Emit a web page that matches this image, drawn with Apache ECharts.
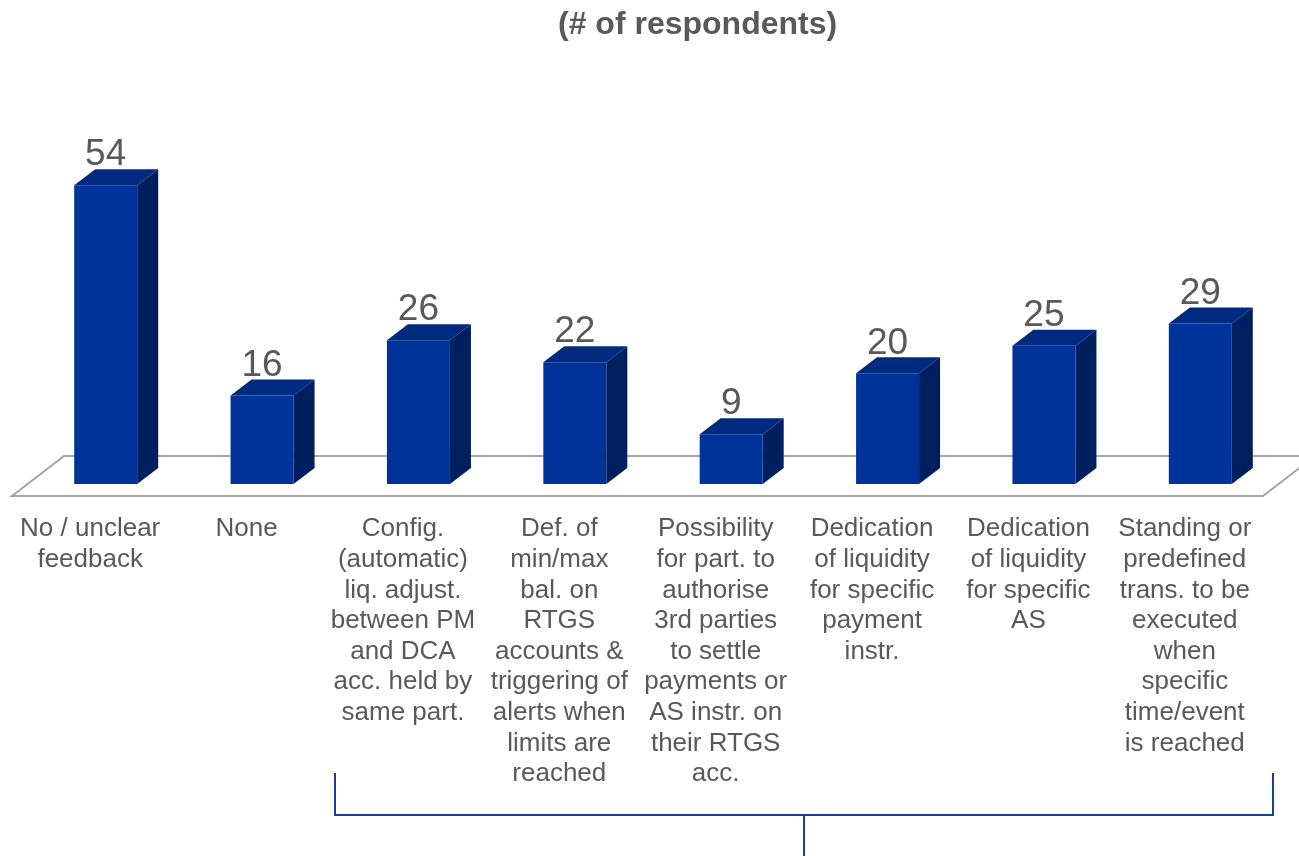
<!DOCTYPE html>
<html>
<head>
<meta charset="utf-8">
<script src="https://cdn.jsdelivr.net/npm/echarts@6/dist/echarts.min.js"></script>
<style>html,body{margin:0;padding:0;background:#fff}#c{width:1299px;height:856px}</style>
</head>
<body>
<div id="c"></div>
<script>
const titleText = '(# of respondents)';
const categories = [
  'No / unclear\nfeedback',
  'None',
  'Config.\n(automatic)\nliq. adjust.\nbetween PM\nand DCA\nacc. held by\nsame part.',
  'Def. of\nmin/max\nbal. on\nRTGS\naccounts &\ntriggering of\nalerts when\nlimits are\nreached',
  'Possibility\nfor part. to\nauthorise\n3rd parties\nto settle\npayments or\nAS instr. on\ntheir RTGS\nacc.',
  'Dedication\nof liquidity\nfor specific\npayment\ninstr.',
  'Dedication\nof liquidity\nfor specific\nAS',
  'Standing or\npredefined\ntrans. to be\nexecuted\nwhen\nspecific\ntime/event\nis reached'
];
const respondents = [54, 16, 26, 22, 9, 20, 25, 29];

const FONT = '"Liberation Sans", Arial, Helvetica, sans-serif';
const FRONT = '#00339A', TOPC = '#002A7F', SIDE = '#001F5E';
const BAR_W = 63, DEPTH_X = 21, DEPTH_Y = 16;
const OFF_X = 15.5, OFF_Y = 12;       // bars sit in middle of floor depth
const FLOOR_DX = 52, FLOOR_DY = 40;

function renderFloor(params, api) {
  const cs = params.coordSys;
  const yF = cs.y + cs.height;
  return {
    type: 'polygon',
    shape: { points: [[cs.x, yF], [cs.x + cs.width, yF], [cs.x + cs.width + FLOOR_DX, yF - FLOOR_DY], [cs.x + FLOOR_DX, yF - FLOOR_DY]] },
    style: { fill: 'none', stroke: '#A6A6A6', lineWidth: 2 },
    silent: true
  };
}

function renderBar(params, api) {
  const c = api.coord([api.value(0), api.value(1)]);
  const b = api.coord([api.value(0), 0]);
  const cx = c[0] + OFF_X;
  const top = c[1] - OFF_Y;
  const bot = b[1] - OFF_Y;
  const hw = BAR_W / 2;
  return {
    type: 'group',
    children: [
      { type: 'polygon', shape: { points: [[cx + hw, top], [cx + hw + DEPTH_X, top - DEPTH_Y], [cx + hw + DEPTH_X, bot - DEPTH_Y], [cx + hw, bot]] }, style: { fill: SIDE } },
      { type: 'polygon', shape: { points: [[cx - hw, top], [cx - hw + DEPTH_X, top - DEPTH_Y], [cx + hw + DEPTH_X, top - DEPTH_Y], [cx + hw, top]] }, style: { fill: TOPC } },
      { type: 'rect', shape: { x: cx - hw, y: top, width: BAR_W, height: bot - top }, style: { fill: FRONT } },
      { type: 'text', x: cx, y: top - 30, style: { text: String(api.value(1)), fill: '#595959', font: '37px ' + FONT, align: 'center', verticalAlign: 'middle' } }
    ]
  };
}

const chart = echarts.init(document.getElementById('c'), null, { renderer: 'canvas' });
chart.setOption({
  backgroundColor: '#ffffff',
  animation: false,
  title: {
    text: titleText,
    left: 553, top: 4,
    textStyle: { fontFamily: FONT, fontSize: 32, fontWeight: 'bold', color: '#595959' }
  },
  grid: { left: 12, width: 1251, top: 164, bottom: 360, containLabel: false },
  xAxis: {
    type: 'category',
    data: categories,
    axisLine: { show: false },
    axisTick: { show: false },
    splitLine: { show: false },
    axisLabel: {
      interval: 0, margin: 18,
      fontFamily: FONT, fontSize: 26, lineHeight: 30.6, color: '#595959', align: 'center'
    }
  },
  yAxis: { type: 'value', min: 0, max: 60, show: false },
  graphic: [
    {
      type: 'polyline',
      shape: { points: [[335, 773], [335, 815], [1273, 815], [1273, 773]] },
      style: { stroke: '#1A3E9A', lineWidth: 2, fill: 'none' }
    },
    {
      type: 'line',
      shape: { x1: 804, y1: 815, x2: 804, y2: 860 },
      style: { stroke: '#1A3E9A', lineWidth: 2 }
    }
  ],
  series: [
    { type: 'custom', renderItem: renderFloor, data: [[0, 0]], silent: true, z: 1 },
    { type: 'custom', renderItem: renderBar, data: respondents.map((v, i) => [i, v]), z: 2 }
  ]
});
</script>
</body>
</html>
